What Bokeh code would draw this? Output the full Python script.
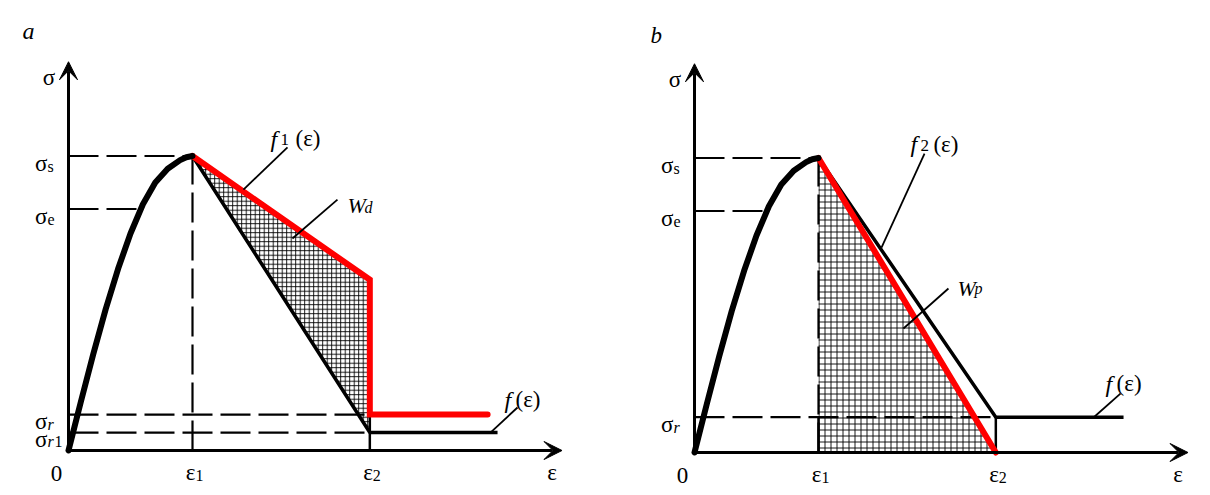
from bokeh.plotting import figure
from bokeh.layouts import row
from bokeh.models import Range1d, Arrow, VeeHead
from bokeh.core.properties import value
from bokeh.embed import file_html
from bokeh.resources import INLINE

# ---------------- data (schematic units: eps1 = 1, sigma_s = 1) ----------------
curve_eps = [0, 0.05, 0.10, 0.20, 0.30, 0.40, 0.50, 0.60, 0.70, 0.80, 0.90, 0.95, 1.00]
curve_sig = [0, 0.083, 0.166, 0.328, 0.480, 0.617, 0.737, 0.836, 0.910, 0.957, 0.986, 0.996, 1.0]

eps1 = 1.0
eps2 = 2.43
eps_axis_end = 3.98
sig_axis_end = 1.32
sig_s = 1.0
sig_e = 0.82
eps_at_sig_e = 0.57

# panel a
a_sig_r = 0.122
a_sig_r1 = 0.061
a_red_eps = [1.0, 2.43, 2.43, 3.38]
a_red_sig = [1.0, 0.58, 0.122, 0.122]
a_black_eps = [1.0, 2.43, 3.46]
a_black_sig = [1.0, 0.061, 0.061]
a_leader_f1 = ([1.766, 1.411], [1.029, 0.886])
a_leader_wd = ([2.169, 1.806], [0.852, 0.720])
a_leader_f = ([3.403, 3.621], [0.061, 0.146])

# panel b
b_sig_r = 0.12
b_red_eps = [1.0, 2.43]
b_red_sig = [1.0, 0.0]
b_black_eps = [1.0, 2.43, 3.46]
b_black_sig = [1.0, 0.12, 0.12]
b_leader_f2 = ([1.855, 1.508], [1.015, 0.696])
b_leader_wp = ([2.048, 1.685], [0.557, 0.421])
b_leader_f = ([3.435, 3.218], [0.200, 0.119])

# ---------------- layout helpers ----------------
KX = 124.0   # px per eps unit
KY = 294.5   # px per sigma unit
W, H = 605, 490
SERIF = value("Liberation Serif")
DASH = "30 8"


def make_fig(ox, oy):
    p = figure(width=W, height=H, output_backend="svg", toolbar_location=None,
               x_range=Range1d(-ox / KX, (W - ox) / KX),
               y_range=Range1d(-oy / KY, (H - oy) / KY),
               x_axis_type=None, y_axis_type=None, min_border=0,
               background_fill_color="white", border_fill_color="white")
    p.grid.visible = False
    p.outline_line_color = None
    return p


def txt(p, x, y, s, size=23, style="normal", align="left"):
    p.text(x=[x], y=[y], text=[s], text_font=SERIF, text_font_size=value(f"{size}px"),
           text_font_style=style, text_align=align, text_baseline="alphabetic",
           text_color="black")


def sub_label(p, x, y, base, sub, sub_style="normal", base_size=23, sub_size=16, drop=3):
    txt(p, x, y, base, base_size, "normal", "right")
    txt(p, x, y - drop / KY, sub, sub_size, sub_style, "left")


def common(p, sig_r_levels):
    p.line([0, eps1], [sig_s, sig_s], line_color="black", line_width=2.2, line_dash=DASH)
    p.line([0, eps_at_sig_e], [sig_e, sig_e], line_color="black", line_width=2.2, line_dash=DASH)
    p.line([eps1, eps1], [0, sig_s], line_color="black", line_width=2.2, line_dash=DASH)
    for lv in sig_r_levels:
        p.line([0, eps2], [lv, lv], line_color="black", line_width=2.2, line_dash=DASH)


def axes(p):
    p.add_layout(Arrow(end=VeeHead(size=18, fill_color="black", line_color="black", line_width=1),
                       x_start=0, y_start=0, x_end=0, y_end=sig_axis_end,
                       line_color="black", line_width=3))
    p.add_layout(Arrow(end=VeeHead(size=18, fill_color="black", line_color="black", line_width=1),
                       x_start=0, y_start=0, x_end=eps_axis_end, y_end=0,
                       line_color="black", line_width=3))


def axis_texts(p):
    txt(p, -19.5 / KX, sig_axis_end - 0.053, "σ", 23, "normal", "center")
    sub_label(p, -21 / KX, sig_s - 7 / KY, "σ", "s")
    sub_label(p, -21 / KX, sig_e - 7 / KY, "σ", "e")
    txt(p, -12 / KX, -23 / KY, "0", 23, "normal", "center")
    sub_label(p, eps1 + 3 / KX, -22 / KY, "ε", "1")
    sub_label(p, eps2 + 3 / KX, -22 / KY, "ε", "2")
    txt(p, eps_axis_end - 10 / KX, -22 / KY, "ε", 23, "normal", "center")


# ---------------- panel a ----------------
pa = make_fig(68, H - 450)
pa.patch([a_red_eps[0], a_red_eps[1], a_black_eps[1]], [a_red_sig[0], a_red_sig[1], a_black_sig[1]],
         fill_alpha=0, line_color=None, hatch_pattern="+", hatch_scale=4.5,
         hatch_weight=0.9, hatch_color="black")
common(pa, [a_sig_r, a_sig_r1])
pa.line([eps2, eps2], [0, a_sig_r], line_color="black", line_width=2.5)
pa.line(a_black_eps, a_black_sig, line_color="black", line_width=3.5)
pa.line(a_red_eps, a_red_sig, line_color="#ff0000", line_width=6, line_join="miter", line_cap="round")
pa.line(curve_eps, curve_sig, line_color="black", line_width=6, line_cap="round", line_join="round")
for lx, ly in (a_leader_f1, a_leader_wd, a_leader_f):
    pa.line(lx, ly, line_color="black", line_width=1.8)
axes(pa)
axis_texts(pa)
sub_label(pa, -21 / KX, a_sig_r - 7 / KY, "σ", "r", sub_style="italic")
txt(pa, -21 / KX, a_sig_r1 - 7 / KY, "σ", 23, "normal", "right")
txt(pa, -21 / KX, a_sig_r1 - 9 / KY, "r", 16, "italic", "left")
txt(pa, -14 / KX, a_sig_r1 - 9 / KY, "1", 16, "normal", "left")
txt(pa, -0.37, 1.425, "a", 24, "italic")
# f1(ε)
txt(pa, 1.629, 1.059, "f", 24, "italic")
txt(pa, 1.629 + 10 / KX, 1.056, "1", 17)
txt(pa, 1.831, 1.059, "(ε)", 23)
# W_d
txt(pa, 2.25, 0.832, "W", 22, "italic")
txt(pa, 2.25 + 17 / KX, 0.825, "d", 16, "italic")
# f(ε)
txt(pa, 3.516, 0.173, "f", 24, "italic")
txt(pa, 3.516 + 11 / KX, 0.173, "(ε)", 23)

# ---------------- panel b ----------------
pb = make_fig(694 - W, H - 452)
pb.patch([b_red_eps[0], b_red_eps[1], eps1], [b_red_sig[0], b_red_sig[1], 0],
         fill_alpha=0, line_color=None, hatch_pattern="+", hatch_scale=6.0,
         hatch_weight=0.9, hatch_color="black")
common(pb, [b_sig_r])
pb.line([eps2, eps2], [0, b_sig_r], line_color="black", line_width=2.5)
pb.line([eps1, eps1], [0, b_sig_r], line_color="black", line_width=2.5)
pb.line(b_black_eps, b_black_sig, line_color="black", line_width=3.5)
pb.line(b_red_eps, b_red_sig, line_color="#ff0000", line_width=6, line_cap="round")
pb.line(curve_eps, curve_sig, line_color="black", line_width=6, line_cap="round", line_join="round")
for lx, ly in (b_leader_f2, b_leader_wp, b_leader_f):
    pb.line(lx, ly, line_color="black", line_width=1.8)
axes(pb)
axis_texts(pb)
sub_label(pb, -21 / KX, b_sig_r - 7 / KY, "σ", "r", sub_style="italic")
txt(pb, -0.355, 1.416, "b", 23, "italic")
# f2(ε)
txt(pb, 1.742, 1.046, "f", 24, "italic")
txt(pb, 1.742 + 10 / KX, 1.043, "2", 17)
txt(pb, 1.927, 1.046, "(ε)", 23)
# W_p
txt(pb, 2.121, 0.557, "W", 22, "italic")
txt(pb, 2.121 + 17 / KX, 0.557, "p", 16, "italic")
# f(ε)
txt(pb, 3.315, 0.234, "f", 24, "italic")
txt(pb, 3.315 + 11 / KX, 0.234, "(ε)", 23)

layout = row(pa, pb)
open("out.html", "w").write(file_html(layout, INLINE))
